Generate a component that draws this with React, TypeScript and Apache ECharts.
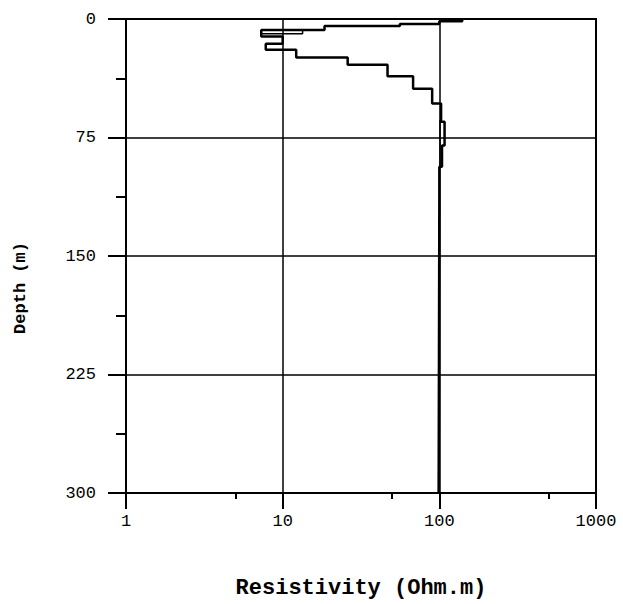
import React, { useEffect, useRef } from 'react';
import * as echarts from 'echarts';

// Main resistivity profile (layered model)
const profileResistivity = [140, 140, 100, 100, 56, 56, 18.5, 18.5, 7.3, 7.3, 10, 10, 7.8, 7.8, 12.2, 12.2, 26, 26, 46.7, 46.7, 68, 68, 90, 90, 102.6, 102.6, 108, 108, 104, 104, 100, 100, 99, 99];
const profileDepth = [0, 1.5, 1.5, 3.1, 3.1, 4.5, 4.5, 6.9, 6.9, 11.1, 11.1, 15.7, 15.7, 19.5, 19.5, 24.3, 24.3, 29, 29, 36.2, 36.2, 44.1, 44.1, 53.5, 53.5, 65, 65, 80, 80, 93.5, 93.5, 112, 112, 300];

// Secondary traces visible inside the profile
const innerResistivityA = [13.4, 13.4, 7.3];
const innerDepthA = [6.9, 9.4, 9.4];
const innerResistivityB = [101, 101];
const innerDepthB = [64, 93];

const xMajorTickValues = [1, 10, 100, 1000];
const xMinorTickValues = [5, 50, 500];

const xTitle = 'Resistivity (Ohm.m)';
const yTitle = 'Depth (m)';

export default function App() {
  const ref = useRef<HTMLDivElement>(null);
  useEffect(() => {
    const chart = echarts.init(ref.current!, null, { renderer: 'svg' });
    const font = 'Liberation Mono';
    const pair = (xs: number[], ys: number[]) => xs.map((x, i) => [x, ys[i]]);
    const black = '#000';
    const tickAxis = (values: number[], length: number) => ({
      type: 'log', logBase: 10, min: 1, max: 1000, position: 'bottom', gridIndex: 0,
      axisLine: { show: false, onZero: false },
      axisTick: { show: true, inside: false, customValues: values, length, lineStyle: { color: black, width: 2 } },
      axisLabel: { show: false },
      splitLine: { show: false },
    });
    chart.setOption({
      animation: false,
      backgroundColor: '#fff',
      grid: { left: 126, top: 19, width: 470, height: 478, show: true, borderColor: black, borderWidth: 2, backgroundColor: 'transparent' },
      xAxis: [
        {
          type: 'log', logBase: 10, min: 1, max: 1000, position: 'bottom',
          axisLine: { show: true, onZero: false, lineStyle: { color: black, width: 2 } },
          axisTick: { show: false },
          axisLabel: { margin: 20, fontFamily: font, fontSize: 17, color: black, formatter: (v: number) => String(v) },
          splitLine: { show: true, lineStyle: { color: black, width: 1.5 } },
          minorTick: { show: false }, minorSplitLine: { show: false },
          name: xTitle, nameLocation: 'middle', nameGap: 84,
          nameTextStyle: { fontFamily: font, fontSize: 22, fontWeight: 'bold', color: black },
        },
        tickAxis(xMajorTickValues, 16),
        tickAxis(xMinorTickValues, 6),
      ],
      yAxis: {
        type: 'value', inverse: true, min: 0, max: 300, interval: 75,
        axisLine: { show: true, onZero: false, lineStyle: { color: black, width: 2 } },
        axisTick: { show: true, inside: false, length: 18, lineStyle: { color: black, width: 2 } },
        minorTick: { show: true, splitNumber: 2, length: 10, lineStyle: { color: black, width: 2 } },
        minorSplitLine: { show: false },
        axisLabel: { margin: 30, fontFamily: font, fontSize: 17, color: black },
        splitLine: { show: true, lineStyle: { color: black, width: 1.5 } },
      },
      graphic: [
        {
          type: 'text', x: 20, y: 288, rotation: Math.PI / 2,
          style: { text: yTitle, fontFamily: font, fontSize: 17, fontWeight: 'bold', fill: black, textAlign: 'center', textVerticalAlign: 'middle' },
        },
      ],
      series: [
        {
          type: 'line', xAxisIndex: 0, yAxisIndex: 0, showSymbol: false, symbol: 'none',
          data: pair(profileResistivity, profileDepth),
          lineStyle: { color: black, width: 2.5 },
        },
        {
          type: 'line', xAxisIndex: 0, yAxisIndex: 0, showSymbol: false, symbol: 'none',
          data: pair(innerResistivityA, innerDepthA),
          lineStyle: { color: black, width: 1.5 },
        },
        {
          type: 'line', xAxisIndex: 0, yAxisIndex: 0, showSymbol: false, symbol: 'none',
          data: pair(innerResistivityB, innerDepthB),
          lineStyle: { color: black, width: 1.5 },
        },
      ],
    });
    return () => chart.dispose();
  }, []);
  return <div ref={ref} style={{ position: 'fixed', left: 0, top: 0, width: 623, height: 604 }} />;
}
